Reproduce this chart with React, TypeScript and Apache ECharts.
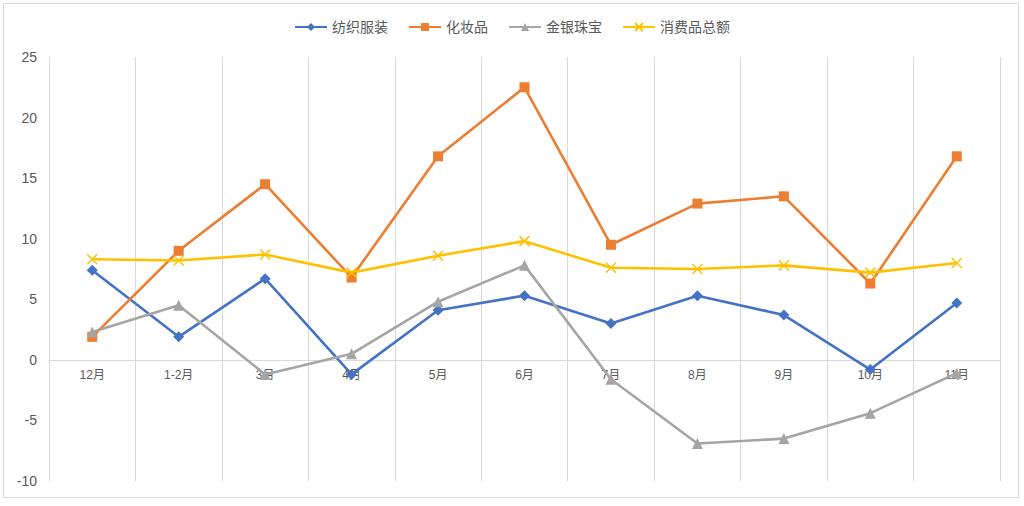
import React, { useEffect, useRef } from "react";
import * as echarts from "echarts";

const categories = ["12月", "1-2月", "3月", "4月", "5月", "6月", "7月", "8月", "9月", "10月", "11月"];
const textile = [7.4, 1.9, 6.7, -1.2, 4.1, 5.3, 3.0, 5.3, 3.7, -0.8, 4.7];
const cosmetics = [1.9, 9.0, 14.5, 6.8, 16.8, 22.5, 9.5, 12.9, 13.5, 6.3, 16.8];
const jewelry = [2.3, 4.5, -1.2, 0.5, 4.8, 7.8, -1.6, -6.9, -6.5, -4.4, -1.1];
const total = [8.3, 8.2, 8.7, 7.2, 8.6, 9.8, 7.6, 7.5, 7.8, 7.2, 8.0];
const seriesNames = ["纺织服装", "化妆品", "金银珠宝", "消费品总额"];
const yMin = -10;
const yMax = 25;

const FONT = "'Liberation Sans', 'Noto Sans CJK SC', sans-serif";

const GRID_TOP = 57;
const GRID_BOTTOM = 25;
const HEIGHT = 506;

export default function App() {
  const ref = useRef<HTMLDivElement>(null);
  useEffect(() => {
    if (!ref.current) return;
    const chart = echarts.init(ref.current, null, { renderer: "svg" });
    const plotH = HEIGHT - GRID_TOP - GRID_BOTTOM;
    // distance from bottom of grid to the zero line
    const zeroOffset = (plotH * (0 - yMin)) / (yMax - yMin);
    const mk = (name: string, data: number[], color: string, symbol: string, size: number, extra: any = {}) => ({
      name,
      type: "line",
      data,
      symbol,
      symbolSize: size,
      lineStyle: { color, width: 2.6 },
      itemStyle: { color, ...extra },
      emphasis: { disabled: true },
    });
    chart.setOption({
      animation: false,
      backgroundColor: "#ffffff",
      textStyle: { fontFamily: FONT },
      graphic: [
        {
          type: "rect",
          shape: { x: 3.5, y: 3.5, width: 1015, height: 494 },
          style: { fill: "none", stroke: "#d9d9d9", lineWidth: 1 },
          silent: true,
        },
      ],
      legend: {
        top: 15,
        left: "center",
        itemWidth: 32,
        itemHeight: 10,
        itemGap: 20,
        textStyle: { color: "#595959", fontSize: 14, fontFamily: FONT },
        data: seriesNames,
      },
      grid: { left: 49, right: 24, top: GRID_TOP, bottom: GRID_BOTTOM, containLabel: false },
      xAxis: {
        type: "category",
        data: categories,
        boundaryGap: true,
        position: "bottom",
        offset: -zeroOffset,
        axisLine: { show: true, onZero: false, lineStyle: { color: "#d9d9d9", width: 1 } },
        axisTick: { show: false },
        splitLine: { show: true, interval: 0, lineStyle: { color: "#d9d9d9", width: 1 } },
        axisLabel: { color: "#595959", fontSize: 12, interval: 0, margin: 9, fontFamily: FONT },
      },
      yAxis: {
        type: "value",
        min: yMin,
        max: yMax,
        interval: 5,
        axisLine: { show: false },
        axisTick: { show: false },
        splitLine: { show: false },
        axisLabel: { color: "#595959", fontSize: 14, margin: 12, fontFamily: FONT },
      },
      series: [
        mk(seriesNames[0], textile, "#4472C4", "diamond", 11),
        mk(seriesNames[1], cosmetics, "#ED7D31", "rect", 10),
        mk(seriesNames[2], jewelry, "#A5A5A5", "triangle", 11),
        mk(seriesNames[3], total, "#FFC000", "path://M0,0L10,10M10,0L0,10", 10, {
          borderColor: "#FFC000",
          borderWidth: 1.5,
        }),
      ],
    });
    return () => chart.dispose();
  }, []);
  return (
    <div
      ref={ref}
      style={{ position: "fixed", left: 0, top: 0, width: 1024, height: HEIGHT }}
    />
  );
}
